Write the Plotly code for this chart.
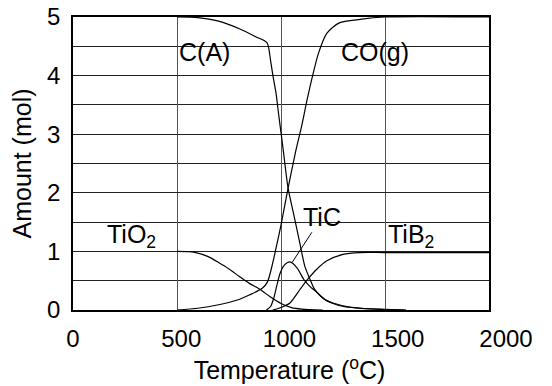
import plotly.graph_objects as go

# Equilibrium amounts (mol) versus temperature (deg C)
t_c = [500, 600, 700, 800, 880, 933, 950, 962, 976, 990, 1010, 1034, 1060, 1090, 1115, 1140,
       1160, 1190, 1220, 1250, 1300, 1380, 1500, 1600]
c_a = [5.0, 4.99, 4.93, 4.8, 4.66, 4.56, 4.25, 3.98, 3.7, 3.3, 2.75, 2.08, 1.65, 1.15, 0.74,
       0.52, 0.36, 0.24, 0.16, 0.11, 0.06, 0.03, 0.01, 0.0]

t_co = [500, 600, 700, 790, 850, 910, 935, 960, 980, 1000, 1034, 1070, 1100, 1125, 1150,
        1180, 1220, 1280, 1380, 1500, 2000]
co_g = [0.0, 0.03, 0.09, 0.17, 0.26, 0.37, 0.48, 0.8, 1.12, 1.45, 2.08, 2.7, 3.15, 3.58,
        3.97, 4.38, 4.72, 4.9, 4.96, 5.0, 5.0]

t_tio2 = [500, 560, 600, 650, 700, 750, 800, 850, 900, 950, 1000, 1050, 1100, 1200]
tio2 = [1.0, 0.995, 0.97, 0.91, 0.81, 0.7, 0.57, 0.45, 0.35, 0.22, 0.11, 0.04, 0.015, 0.0]

t_tic = [930, 950, 965, 980, 995, 1015, 1043, 1077, 1110, 1140, 1173, 1210, 1250, 1330,
         1480, 1600]
tic = [0.0, 0.06, 0.2, 0.42, 0.62, 0.76, 0.82, 0.72, 0.52, 0.4, 0.3, 0.18, 0.12, 0.05,
       0.01, 0.0]

t_tib2 = [960, 990, 1043, 1091, 1130, 1173, 1221, 1298, 1380, 1500, 2000]
tib2 = [0.0, 0.03, 0.12, 0.35, 0.53, 0.7, 0.84, 0.95, 0.98, 0.98, 0.98]

x_ticks = [0, 500, 1000, 1500, 2000]
y_ticks = [0, 1, 2, 3, 4, 5]

FONT = "Liberation Sans, Arial, sans-serif"
line_style = dict(color="black", width=1.2, shape="spline", smoothing=0.7)

fig = go.Figure()
for tx, vals in [(t_c, c_a), (t_co, co_g), (t_tio2, tio2), (t_tic, tic), (t_tib2, tib2)]:
    fig.add_trace(go.Scatter(x=tx, y=vals, mode="lines", line=line_style,
                             showlegend=False, hoverinfo="skip"))

# carrier trace for the labelled temperature axis (its own bare y axis)
fig.add_trace(go.Scatter(x=[x_ticks[0]], y=[None], xaxis="x2", yaxis="y2",
                         mode="lines", showlegend=False, hoverinfo="skip"))

label_font = dict(family=FONT, size=25, color="black")
peak = tic.index(max(tic))
annotations = [
    dict(x=630, y=4.4, text="C(A)", showarrow=False, font=label_font),
    dict(x=1452, y=4.4, text="CO(g)", showarrow=False, font=label_font),
    dict(x=279, y=1.27, text="TiO<sub>2</sub>", showarrow=False, font=label_font),
    dict(x=1625, y=1.26, text="TiB<sub>2</sub>", showarrow=False, font=label_font),
    dict(x=t_tic[peak] + 12, y=tic[peak], text="TiC", showarrow=True, arrowhead=0,
         arrowwidth=1, arrowcolor="black", axref="x", ayref="y", ax=1197, ay=1.59,
         font=label_font),
]

W, H = 552, 386
left, right_plot, right_lab = 72.5, 489, 506
fig.update_layout(
    width=W, height=H,
    margin=dict(l=left, r=W - right_lab, t=17, b=76, pad=0, autoexpand=False),
    paper_bgcolor="white", plot_bgcolor="rgba(0,0,0,0)",
    font=dict(family=FONT, size=24, color="black"),
    annotations=annotations,
    xaxis=dict(range=[0, 2000], domain=[0, (right_plot - left) / (right_lab - left)],
               tickvals=x_ticks, showticklabels=False, ticks="", automargin=False,
               showgrid=True, gridcolor="#555", gridwidth=1,
               showline=True, linecolor="black", linewidth=1.5, mirror=True,
               zeroline=False),
    xaxis2=dict(range=[0, 2000], domain=[0, 1], anchor="y2", tickvals=x_ticks,
                ticks="", showgrid=False, showline=False, zeroline=False,
                ticklabelstandoff=12, automargin=False,
                tickfont=dict(family=FONT, size=24, color="black"),
                title=dict(text="Temperature (<sup>o</sup>C)",
                           font=dict(family=FONT, size=25, color="black"), standoff=10)),
    yaxis2=dict(range=[0, 5], anchor="x2", visible=False, showgrid=False,
                zeroline=False, automargin=False),
    yaxis=dict(range=[0, 5], tickvals=y_ticks, ticks="", showgrid=True,
               gridcolor="#222", gridwidth=1, automargin=False,
               minor=dict(dtick=0.5, showgrid=True, gridcolor="#222", gridwidth=1),
               showline=True, linecolor="black", linewidth=1.5, mirror=True,
               zeroline=False, ticklabelstandoff=6,
               tickfont=dict(family=FONT, size=24, color="black"),
               title=dict(text="Amount (mol)",
                          font=dict(family=FONT, size=25, color="black"), standoff=8)),
)

fig.write_html("out.html")
